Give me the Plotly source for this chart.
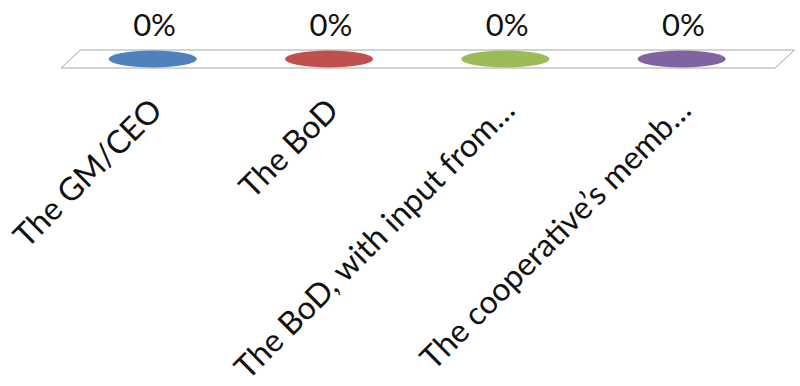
import plotly.graph_objects as go

categories = ["The GM/CEO", "The BoD", "The BoD, with input from…", "The cooperative’s memb…"]
values = [0, 0, 0, 0]
colors = ["#4F81BD", "#C0504D", "#9BBB59", "#8064A2"]
value_labels = [f"{v:.0f}%" for v in values]

# styling constants (positions in axis units)
FLOOR_FRONT = (-0.52, 3.53)
DEPTH_SHIFT = 0.11
FLOOR_HALF_DEPTH = 9
ELL_HALF_W = 0.25
ELL_HALF_H = 8.5
LABEL_OFFSET = 31

idx = list(range(len(categories)))

fig = go.Figure()

# floor parallelogram
fx = [FLOOR_FRONT[0], FLOOR_FRONT[1], FLOOR_FRONT[1] + DEPTH_SHIFT, FLOOR_FRONT[0] + DEPTH_SHIFT, FLOOR_FRONT[0]]
fy = [-FLOOR_HALF_DEPTH, -FLOOR_HALF_DEPTH, FLOOR_HALF_DEPTH, FLOOR_HALF_DEPTH, -FLOOR_HALF_DEPTH]
fig.add_trace(go.Scatter(x=fx, y=fy, mode="lines", fill="toself", fillcolor="white",
                         line=dict(color="#A6A6A6", width=1), hoverinfo="skip", showlegend=False))

# bars (zero-height cylinders -> ellipses)
for i, v, c in zip(idx, values, colors):
    fig.add_shape(type="circle", xref="x", yref="y",
                  x0=i - ELL_HALF_W, x1=i + ELL_HALF_W,
                  y0=v - ELL_HALF_H, y1=v + ELL_HALF_H,
                  fillcolor=c, line=dict(color=c, width=0), layer="above")

# value labels
fig.add_trace(go.Scatter(x=[i + 0.01 for i in idx], y=[v + LABEL_OFFSET for v in values],
                         mode="text", text=value_labels, textposition="middle center",
                         textfont=dict(family="Lato", size=31, color="#111111"),
                         hoverinfo="skip", showlegend=False, cliponaxis=False))

fig.update_layout(
    width=800, height=386,
    margin=dict(l=47, r=2, t=0, b=306, autoexpand=False),
    paper_bgcolor="white", plot_bgcolor="white",
    showlegend=False,
    xaxis=dict(range=[-0.6, 3.66], tickmode="array", tickvals=idx, ticktext=categories,
               tickangle=-45, showgrid=False, zeroline=False, showline=False, ticks="",
               tickfont=dict(family="Lato", size=32, color="#111111"),
               ticklabelstandoff=4, ticklabeloverflow="allow", automargin=False,
               fixedrange=True),
    yaxis=dict(range=[-21, 59], visible=False, fixedrange=True, automargin=False),
)

fig.write_html("out.html")
